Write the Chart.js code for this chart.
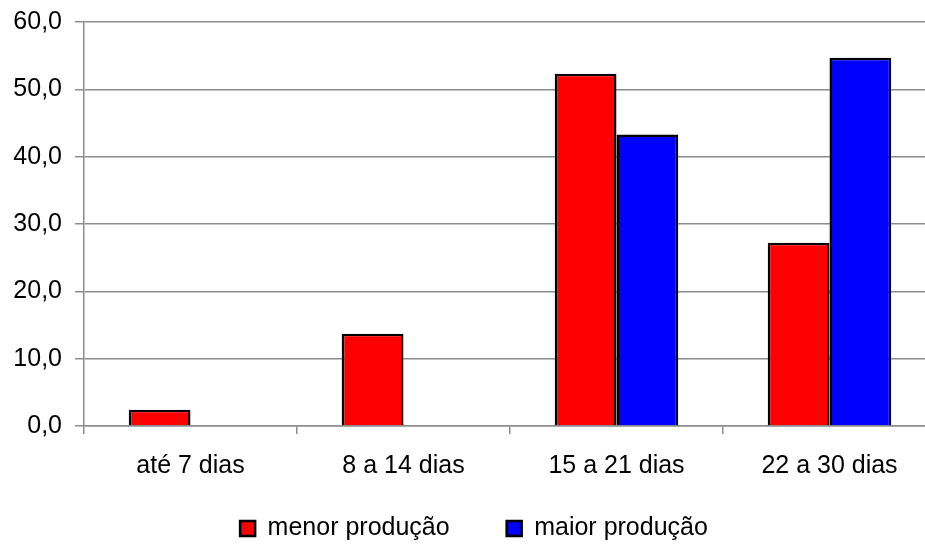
<!DOCTYPE html>
<html>
<head>
<meta charset="utf-8">
<script src="https://cdn.jsdelivr.net/npm/chart.js@4/dist/chart.umd.min.js"></script>
<style>
  html, body { margin: 0; padding: 0; background: #fff; overflow: hidden; }
</style>
</head>
<body>
<canvas id="grafico" width="940" height="545"></canvas>
<script>
const categorias = ["até 7 dias", "8 a 14 dias", "15 a 21 dias", "22 a 30 dias"]
const menorProducao = [2.4, 13.7, 52.3, 27.2]
const maiorProducao = [null, null, 43.3, 54.7]
const ticksY = [0, 10, 20, 30, 40, 50, 60]

const fonte = "Arial, 'Liberation Sans', sans-serif"
const cinza = '#8c8c8c'

// ajusta a posição da legenda (mais perto do eixo x)
const moverLegenda = {
    id: 'moverLegenda',
    afterLayout(chart) {
        chart.legend.top -= 19
        chart.legend.bottom -= 19
        chart.legend.left += 6
        chart.legend.right += 6
    }
}

new Chart(document.getElementById("grafico"), {
    type: 'bar',
    plugins: [moverLegenda],
    data: {
        labels: categorias,
        datasets: [
            {
                label: "menor produção",
                data: menorProducao,
                backgroundColor: '#FF0000',
                borderColor: '#000000',
                borderWidth: 2.5,
                borderSkipped: 'bottom'
            },
            {
                label: "maior produção",
                data: maiorProducao,
                backgroundColor: '#0000FF',
                borderColor: '#000000',
                borderWidth: 2.5,
                borderSkipped: 'bottom'
            }
        ]
    },
    options: {
        responsive: false,
        animation: false,
        layout: {
            padding: { left: 0, right: 4, top: 22, bottom: -25 }
        },
        datasets: {
            bar: {
                categoryPercentage: 0.58,
                barPercentage: 1
            }
        },
        plugins: {
            tooltip: { enabled: false },
            legend: {
                position: 'bottom',
                labels: {
                    color: '#000000',
                    boxWidth: 15,
                    boxHeight: 15,
                    padding: 57,
                    font: { family: fonte, size: 25 }
                }
            }
        },
        scales: {
            x: {
                afterFit: function (scale) {
                    scale.height = 52
                    scale.paddingLeft = 0
                    scale.paddingRight = 0
                },
                grid: {
                    display: true,
                    drawOnChartArea: false,
                    drawTicks: true,
                    tickLength: 8,
                    color: cinza,
                    lineWidth: 1.5
                },
                border: { color: cinza, width: 1.5 },
                ticks: {
                    color: '#000000',
                    padding: 17,
                    font: { family: fonte, size: 25 }
                }
            },
            y: {
                min: 0,
                max: 60,
                afterFit: function (scale) {
                    scale.width = 84
                    scale.paddingTop = 0
                    scale.paddingBottom = 0
                },
                afterBuildTicks: function (scale) {
                    scale.ticks = ticksY.map(v => ({ value: v }))
                },
                grid: {
                    color: cinza,
                    lineWidth: 1.5,
                    tickLength: 9
                },
                border: { color: cinza, width: 1.5 },
                ticks: {
                    color: '#000000',
                    padding: 13,
                    font: { family: fonte, size: 25 },
                    callback: function (valor) {
                        return valor.toFixed(1).replace('.', ',')
                    }
                }
            }
        }
    }
});
</script>
</body>
</html>
